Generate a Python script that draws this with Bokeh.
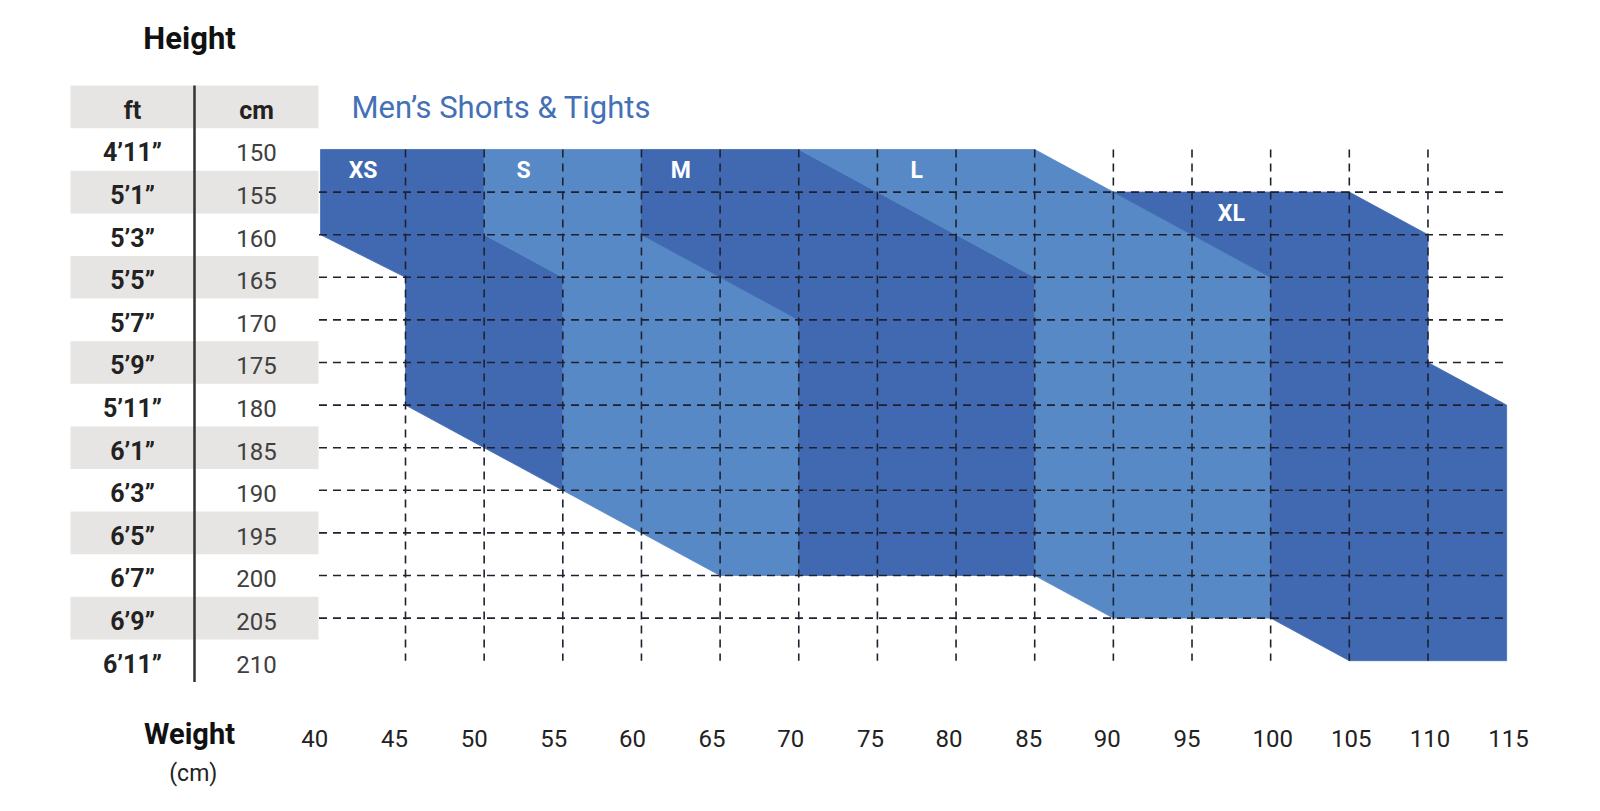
from bokeh.plotting import figure
from bokeh.models import Range1d, Label
from bokeh.core.properties import value
from bokeh.embed import file_html
from bokeh.resources import INLINE

# ---------------- data ----------------
height_cm = [150, 155, 160, 165, 170, 175, 180, 185, 190, 195, 200, 205, 210]
height_ft = ["4’11”", "5’1”", "5’3”", "5’5”", "5’7”", "5’9”", "5’11”",
             "6’1”", "6’3”", "6’5”", "6’7”", "6’9”", "6’11”"]
table_header = ["ft", "cm"]
weight_ticks = [40, 45, 50, 55, 60, 65, 70, 75, 80, 85, 90, 95, 100, 105, 110, 115]

sizes = ["XS", "S", "M", "L", "XL"]
xs_weight = [39.6, 50, 50, 55, 55, 45, 45, 39.6]
xs_height = [150, 150, 160, 165, 190, 180, 165, 160]
s_weight = [50, 60, 60, 70, 70, 65, 55, 55, 50]
s_height = [150, 150, 160, 170, 200, 200, 190, 165, 160]
m_weight = [60, 70, 85, 85, 70, 70, 60]
m_height = [150, 150, 165, 200, 200, 170, 160]
l_weight = [70, 85, 90, 100, 100, 90, 85, 85]
l_height = [150, 150, 155, 165, 205, 205, 200, 165]
xl_weight = [90, 105, 110, 110, 115, 115, 105, 100, 100]
xl_height = [155, 155, 160, 175, 180, 210, 210, 205, 165]
size_label_weight = [42.3, 52.5, 62.5, 77.5, 97.5]
size_label_height = [152.5, 152.5, 152.5, 152.5, 157.5]

# ---------------- style ----------------
DARK = "#4069b2"
LIGHT = "#5889c7"
TITLE_C = "#4470b5"
BAND = "#e7e5e3"
GRID_C = "#1e2230"
FONT = "Roboto"
W, H = 1600, 811

# weight axis (px = 405 + (w-45)*15.73), height axis inverted (px = 149 + (h-150)*8.52)
p = figure(width=W, height=H,
           x_range=Range1d(19.253, 120.969), y_range=Range1d(start=227.70, end=132.512),
           output_backend="svg", toolbar_location=None,
           min_border_left=0, min_border_right=0, min_border_top=0, min_border_bottom=0)
p.axis.visible = False
p.grid.visible = False
p.outline_line_color = None
# table columns: ft = 0..1, cm = 1..2  (px = 70 + c*124)
p.extra_x_ranges = {"table": Range1d(-0.5645, 12.3387)}

# ---------------- size regions ----------------
poly_w = [xs_weight, s_weight, m_weight, l_weight, xl_weight]
poly_h = [xs_height, s_height, m_height, l_height, xl_height]
colors = [DARK, LIGHT, DARK, LIGHT, DARK]
p.patches(xs=poly_w, ys=poly_h, fill_color=colors, line_color=colors, line_width=0.8)

# dashed grid
grid_left = 39.5
grid_h = height_cm[1:-1]
grid_w = weight_ticks[1:-1]
p.segment(x0=[grid_left] * len(grid_h), y0=grid_h,
          x1=[weight_ticks[-1]] * len(grid_h), y1=grid_h,
          line_color=GRID_C, line_width=1.6, line_dash="8 6")
p.segment(x0=grid_w, y0=[height_cm[0]] * len(grid_w),
          x1=grid_w, y1=[height_cm[-1]] * len(grid_w),
          line_color=GRID_C, line_width=1.6, line_dash="8 6")

# size labels
p.text(x=size_label_weight, y=size_label_height, text=sizes,
       text_color="white", text_font=value(FONT), text_font_size=value("23px"),
       text_font_style="bold", text_align="center", text_baseline="middle")

# weight tick labels
tick_shift = [-12, -11, -10, -9, -9, -8, -8, -7, -7, -6, -6, -5, 2, 2, 2, 2]
p.text(x=weight_ticks, y=[219.13] * len(weight_ticks), text=[str(w) for w in weight_ticks],
       x_offset=tick_shift,
       text_color="#222222", text_font=value(FONT), text_font_size=value("24px"),
       text_align="center", text_baseline="middle")

p.add_layout(Label(x=41.57, y=145.07, text="Men’s Shorts & Tights", text_font=FONT,
                   text_font_size="31px", text_color=TITLE_C,
                   text_baseline="middle", text_align="left"))

# ---------------- height table ----------------
band_rows = [145] + height_cm[1::2]
p.rect(x=[1] * len(band_rows), y=band_rows, width=2, height=5,
       fill_color=BAND, line_color=None, x_range_name="table")

p.text(x=[0.5, 1.5], y=[145, 145], text=table_header, y_offset=4, text_color="#222222",
       text_font=value(FONT), text_font_size=value("25px"), text_font_style="bold",
       text_align="center", text_baseline="middle", x_range_name="table")
p.text(x=[0.5] * len(height_ft), y=height_cm, text=height_ft, y_offset=3.5,
       text_color="#222222",
       text_font=value(FONT), text_font_size=value("25px"), text_font_style="bold",
       text_align="center", text_baseline="middle", x_range_name="table")
p.text(x=[1.5] * len(height_cm), y=height_cm, text=[str(h) for h in height_cm], y_offset=3.5,
       text_color="#404040", text_font=value(FONT), text_font_size=value("24px"),
       text_align="center", text_baseline="middle", x_range_name="table")

p.segment(x0=[1], y0=[142.5], x1=[1], y1=[212.5], line_color="#333333", line_width=2.5,
          x_range_name="table")

p.text(x=[0.96], y=[136.97], text=["Height"], text_color="#111111",
       text_font=value(FONT), text_font_size=value("31px"), text_font_style="bold",
       text_align="center", text_baseline="middle", x_range_name="table")
p.text(x=[0.96], y=[218.55], text=["Weight"], text_color="#111111",
       text_font=value(FONT), text_font_size=value("29px"), text_font_style="bold",
       text_align="center", text_baseline="middle", x_range_name="table")
p.text(x=[0.99], y=[223.2], text=["(cm)"], text_color="#222222",
       text_font=value(FONT), text_font_size=value("23px"),
       text_align="center", text_baseline="middle", x_range_name="table")

open("out.html", "w").write(file_html(p, INLINE))
